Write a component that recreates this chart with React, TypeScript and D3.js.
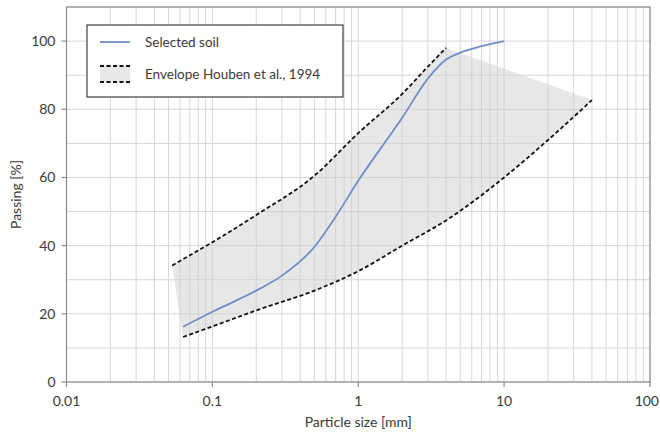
import React from "react";
import * as d3 from "d3";

// Grain size distribution (sieve sizes in mm, passing in %)
const soilSize = [0.063, 0.1, 0.2, 0.3, 0.5, 0.7, 1, 2, 3, 4, 5, 7, 10];
const soilPassing = [16.2, 20.6, 26.8, 31.2, 39.6, 48.5, 59, 77.5, 89, 94.6, 96.6, 98.5, 100];

const upperSize = [0.053, 0.1, 0.2, 0.5, 1, 2, 3, 4];
const upperPassing = [34.2, 41, 49, 60.5, 73, 84.5, 92.5, 98];

const lowerSize = [0.063, 0.1, 0.2, 0.5, 1, 2, 4, 10, 20, 40];
const lowerPassing = [13.2, 16.3, 21, 26.8, 32.5, 40, 47.4, 60, 71, 82.7];

const xTickValues = [0.01, 0.1, 1, 10, 100];
const yTickValues = [0, 20, 40, 60, 80, 100];

const legendLabels = ["Selected soil", "Envelope Houben et al., 1994"];

const W = 660;
const H = 434;
const M = { left: 66.5, right: 10, top: 7, bottom: 52 };
const FONT = "Lato, 'Open Sans', sans-serif";
const TEXT = "#3a3a3a";

export default function App() {
  const x = d3.scaleLog().domain([0.01, 100]).range([M.left, W - M.right]);
  const y = d3.scaleLinear().domain([0, 110]).range([H - M.bottom, M.top]);

  const toPts = (xs: number[], ys: number[]) => xs.map((v, i) => [v, ys[i]] as [number, number]);
  const soil = toPts(soilSize, soilPassing);
  const upper = toPts(upperSize, upperPassing);
  const lower = toPts(lowerSize, lowerPassing);

  const line = d3
    .line<[number, number]>()
    .x((d) => x(d[0]))
    .y((d) => y(d[1]))
    .curve(d3.curveMonotoneX);

  // envelope band: upper curve, then lower curve traced back, closed
  const upperPath = line(upper) as string;
  const lowerRev = d3
    .line<[number, number]>()
    .x((d) => x(d[0]))
    .y((d) => y(d[1]))
    .curve(d3.curveMonotoneX)(lower.slice().reverse()) as string;
  const bandPath = upperPath + "L" + lowerRev.slice(1) + "Z";

  // minor log grid
  const minorX: number[] = [];
  for (let e = -2; e < 2; e++) {
    for (let k = 1; k <= 9; k++) minorX.push(k * Math.pow(10, e));
  }
  minorX.push(100);
  const gridY = d3.range(0, 111, 10);

  const x0 = M.left;
  const x1 = W - M.right;
  const y0 = H - M.bottom;
  const y1 = M.top;

  return (
    <svg
      width={W}
      height={H}
      style={{ position: "absolute", left: 0, top: 0, background: "#fff" }}
      fontFamily={FONT}
    >
      {/* grid */}
      <g stroke="#d6d6d6" strokeWidth={1}>
        {minorX.map((v, i) => (
          <line key={"gx" + i} x1={x(v)} x2={x(v)} y1={y1} y2={y0} />
        ))}
        {gridY.map((v, i) => (
          <line key={"gy" + i} x1={x0} x2={x1} y1={y(v)} y2={y(v)} />
        ))}
      </g>

      {/* envelope band */}
      <path d={bandPath} fill="#d0d0d0" fillOpacity={0.5} stroke="none" />

      {/* plot frame */}
      <rect x={x0} y={y1} width={x1 - x0} height={y0 - y1} fill="none" stroke="#8c8c8c" strokeWidth={1.2} />

      {/* envelope lines */}
      <path d={line(upper) as string} fill="none" stroke="#111" strokeWidth={1.8} strokeDasharray="4,2.5" />
      <path d={line(lower) as string} fill="none" stroke="#111" strokeWidth={1.8} strokeDasharray="4,2.5" />

      {/* selected soil */}
      <path d={line(soil) as string} fill="none" stroke="#6f8fca" strokeWidth={1.8} />

      {/* axes ticks and labels */}
      <g stroke="#8c8c8c" strokeWidth={1.2}>
        {yTickValues.map((v) => (
          <line key={"yt" + v} x1={x0 - 5} x2={x0} y1={y(v)} y2={y(v)} />
        ))}
        {xTickValues.map((v) => (
          <line key={"xt" + v} x1={x(v)} x2={x(v)} y1={y0} y2={y0 + 5} />
        ))}
      </g>
      <g fill={TEXT} fontSize={14}>
        {yTickValues.map((v) => (
          <text key={"yl" + v} x={x0 - 11} y={y(v)} dy="0.35em" textAnchor="end">
            {v}
          </text>
        ))}
        {xTickValues.map((v, i) => {
          const last = i === xTickValues.length - 1;
          return (
            <text
              key={"xl" + v}
              x={last ? W - 1 : x(v)}
              y={y0 + 24}
              textAnchor={last ? "end" : "middle"}
            >
              {String(v)}
            </text>
          );
        })}
        <text x={(x0 + x1) / 2} y={H - 7} textAnchor="middle">
          Particle size [mm]
        </text>
        <text
          transform={`translate(${21},${(y0 + y1) / 2}) rotate(-90)`}
          textAnchor="middle"
        >
          Passing [%]
        </text>
      </g>

      {/* legend */}
      <g>
        <rect x={87} y={25} width={256} height={72} fill="#fff" stroke="#404040" strokeWidth={1.2} />
        <line x1={100} x2={130} y1={42} y2={42} stroke="#6f8fca" strokeWidth={1.8} />
        <rect x={100} y={66} width={30} height={16} fill="#d0d0d0" fillOpacity={0.5} />
        <line x1={100} x2={130} y1={66} y2={66} stroke="#111" strokeWidth={1.8} strokeDasharray="4,2.5" />
        <line x1={100} x2={130} y1={82} y2={82} stroke="#111" strokeWidth={1.8} strokeDasharray="4,2.5" />
        <text x={145} y={42} dy="0.35em" fontSize={13.5} fill={TEXT}>
          {legendLabels[0]}
        </text>
        <text x={145} y={74} dy="0.35em" fontSize={13.5} fill={TEXT}>
          {legendLabels[1]}
        </text>
      </g>
    </svg>
  );
}
